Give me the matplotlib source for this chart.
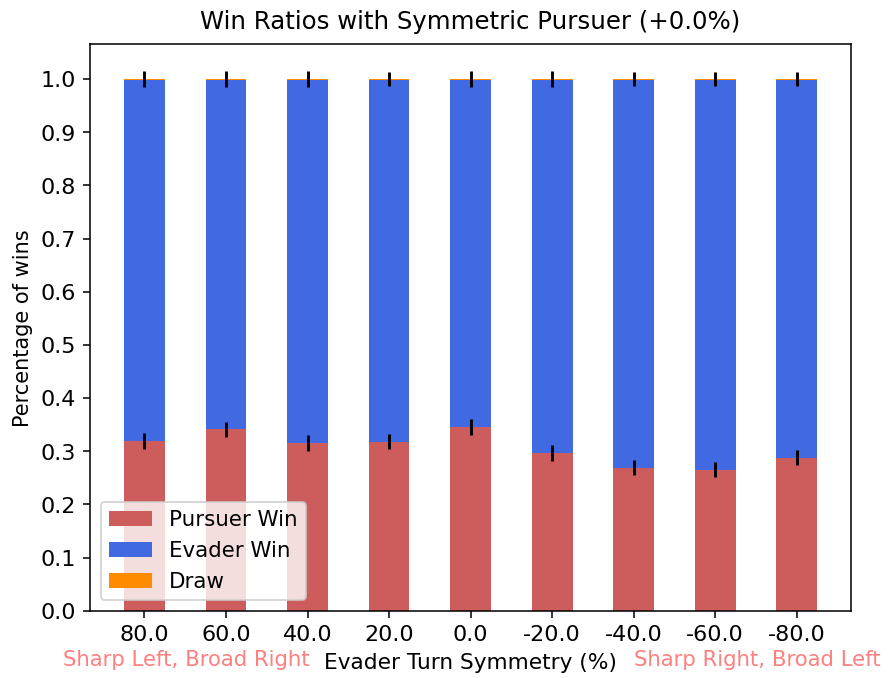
import numpy as np
import matplotlib
matplotlib.use("Agg")
import matplotlib.pyplot as plt

# evader turn symmetry settings (tick labels)
symmetry = ["80.0", "60.0", "40.0", "20.0", "0.0", "-20.0", "-40.0", "-60.0", "-80.0"]

# win ratios
pursuer_win = [0.320, 0.341, 0.316, 0.318, 0.346, 0.297, 0.269, 0.265, 0.288]
draw = [0.001, 0.001, 0.001, 0.001, 0.001, 0.001, 0.001, 0.001, 0.001]
evader_win = [1 - p - d for p, d in zip(pursuer_win, draw)]
err = [0.015, 0.015, 0.015, 0.014, 0.015, 0.015, 0.014, 0.014, 0.014]

x = np.arange(len(symmetry))
p = np.array(pursuer_win)
e = np.array(evader_win)
d = np.array(draw)

fig = plt.figure(figsize=(6.4, 4.88), dpi=139)
ax = fig.add_axes([0.101, 0.099, 0.856, 0.835])

ax.bar(x, p, 0.5, color="indianred", label="Pursuer Win")
ax.bar(x, e, 0.5, bottom=p, color="royalblue", label="Evader Win")
ax.bar(x, d, 0.5, bottom=p + e, color="darkorange", label="Draw")

ax.errorbar(x, p, yerr=err, fmt="none", ecolor="black", elinewidth=1.5)
ax.errorbar(x, p + e + d, yerr=err, fmt="none", ecolor="black", elinewidth=1.5)

ax.set_xlim(-0.67, 8.67)
ax.set_ylim(0, 1.065)
ax.set_yticks(np.arange(0, 1.01, 0.1))
ax.set_xticks(x)
ax.set_xticklabels(symmetry)
ax.tick_params(labelsize=11.5)
ax.set_ylabel("Percentage of wins", fontsize=10.8)
ax.set_xlabel("Evader Turn Symmetry (%)", fontsize=11.2, labelpad=4.5)
ax.set_title("Win Ratios with Symmetric Pursuer (+0.0%)", fontsize=12.6, pad=8)
ax.legend(loc="lower left", fontsize=11.1)

fig.text(0.071, 0.018, "Sharp Left, Broad Right", color="red", alpha=0.5, fontsize=11.0)
fig.text(0.713, 0.018, "Sharp Right, Broad Left", color="red", alpha=0.5, fontsize=11.0)

fig.savefig("out.png", dpi=139)
